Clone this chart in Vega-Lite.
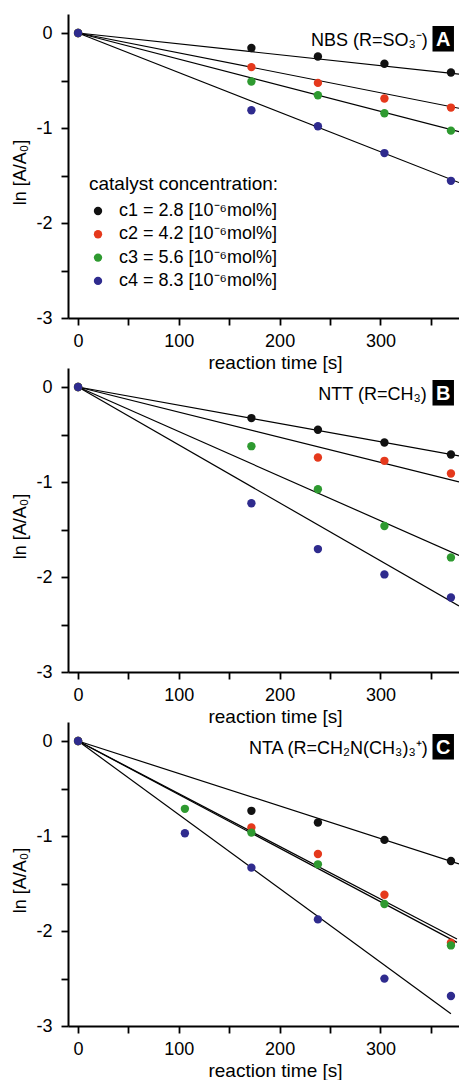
{
  "$schema": "https://vega.github.io/schema/vega-lite/v6.json",
  "padding": {"left": 11, "top": 14, "right": 0, "bottom": 0},
  "spacing": 50,
  "bounds": "flush",
  "datasets": {
    "pts": [
      {"panel": "A", "s": "c1", "t": 0, "v": 0}, {"panel": "A", "s": "c1", "t": 172, "v": -0.158}, {"panel": "A", "s": "c1", "t": 238, "v": -0.247}, {"panel": "A", "s": "c1", "t": 304, "v": -0.324}, {"panel": "A", "s": "c1", "t": 370, "v": -0.416},
      {"panel": "A", "s": "c2", "t": 0, "v": 0}, {"panel": "A", "s": "c2", "t": 172, "v": -0.359}, {"panel": "A", "s": "c2", "t": 238, "v": -0.525}, {"panel": "A", "s": "c2", "t": 304, "v": -0.69}, {"panel": "A", "s": "c2", "t": 370, "v": -0.785},
      {"panel": "A", "s": "c3", "t": 0, "v": 0}, {"panel": "A", "s": "c3", "t": 172, "v": -0.511}, {"panel": "A", "s": "c3", "t": 238, "v": -0.655}, {"panel": "A", "s": "c3", "t": 304, "v": -0.845}, {"panel": "A", "s": "c3", "t": 370, "v": -1.028},
      {"panel": "A", "s": "c4", "t": 0, "v": 0}, {"panel": "A", "s": "c4", "t": 172, "v": -0.813}, {"panel": "A", "s": "c4", "t": 238, "v": -0.982}, {"panel": "A", "s": "c4", "t": 304, "v": -1.264}, {"panel": "A", "s": "c4", "t": 370, "v": -1.556},
      {"panel": "B", "s": "c1", "t": 0, "v": 0}, {"panel": "B", "s": "c1", "t": 172, "v": -0.327}, {"panel": "B", "s": "c1", "t": 238, "v": -0.45}, {"panel": "B", "s": "c1", "t": 304, "v": -0.584}, {"panel": "B", "s": "c1", "t": 370, "v": -0.711},
      {"panel": "B", "s": "c2", "t": 0, "v": 0}, {"panel": "B", "s": "c2", "t": 238, "v": -0.742}, {"panel": "B", "s": "c2", "t": 304, "v": -0.777}, {"panel": "B", "s": "c2", "t": 370, "v": -0.911},
      {"panel": "B", "s": "c3", "t": 0, "v": 0}, {"panel": "B", "s": "c3", "t": 172, "v": -0.623}, {"panel": "B", "s": "c3", "t": 238, "v": -1.076}, {"panel": "B", "s": "c3", "t": 304, "v": -1.463}, {"panel": "B", "s": "c3", "t": 370, "v": -1.794},
      {"panel": "B", "s": "c4", "t": 0, "v": 0}, {"panel": "B", "s": "c4", "t": 172, "v": -1.224}, {"panel": "B", "s": "c4", "t": 238, "v": -1.706}, {"panel": "B", "s": "c4", "t": 304, "v": -1.973}, {"panel": "B", "s": "c4", "t": 370, "v": -2.216},
      {"panel": "C", "s": "c1", "t": 0, "v": 0}, {"panel": "C", "s": "c1", "t": 172, "v": -0.735}, {"panel": "C", "s": "c1", "t": 238, "v": -0.858}, {"panel": "C", "s": "c1", "t": 304, "v": -1.041}, {"panel": "C", "s": "c1", "t": 370, "v": -1.263},
      {"panel": "C", "s": "c2", "t": 0, "v": 0}, {"panel": "C", "s": "c2", "t": 172, "v": -0.911}, {"panel": "C", "s": "c2", "t": 238, "v": -1.189}, {"panel": "C", "s": "c2", "t": 304, "v": -1.618}, {"panel": "C", "s": "c2", "t": 370, "v": -2.124},
      {"panel": "C", "s": "c3", "t": 0, "v": 0}, {"panel": "C", "s": "c3", "t": 106, "v": -0.714}, {"panel": "C", "s": "c3", "t": 172, "v": -0.964}, {"panel": "C", "s": "c3", "t": 238, "v": -1.298}, {"panel": "C", "s": "c3", "t": 304, "v": -1.716}, {"panel": "C", "s": "c3", "t": 370, "v": -2.152},
      {"panel": "C", "s": "c4", "t": 0, "v": 0}, {"panel": "C", "s": "c4", "t": 106, "v": -0.971}, {"panel": "C", "s": "c4", "t": 172, "v": -1.333}, {"panel": "C", "s": "c4", "t": 238, "v": -1.878}, {"panel": "C", "s": "c4", "t": 304, "v": -2.501}, {"panel": "C", "s": "c4", "t": 370, "v": -2.684}
    ],
    "fits": [
      {"panel": "A", "s": "c1", "t": 0, "v": 0}, {"panel": "A", "s": "c1", "t": 378, "v": -0.433},
      {"panel": "A", "s": "c2", "t": 0, "v": 0}, {"panel": "A", "s": "c2", "t": 378, "v": -0.792},
      {"panel": "A", "s": "c3", "t": 0, "v": 0}, {"panel": "A", "s": "c3", "t": 378, "v": -1.039},
      {"panel": "A", "s": "c4", "t": 0, "v": 0}, {"panel": "A", "s": "c4", "t": 378, "v": -1.574},
      {"panel": "B", "s": "c1", "t": 0, "v": 0}, {"panel": "B", "s": "c1", "t": 378, "v": -0.725},
      {"panel": "B", "s": "c2", "t": 0, "v": 0}, {"panel": "B", "s": "c2", "t": 378, "v": -0.999},
      {"panel": "B", "s": "c3", "t": 0, "v": 0}, {"panel": "B", "s": "c3", "t": 378, "v": -1.773},
      {"panel": "B", "s": "c4", "t": 0, "v": 0}, {"panel": "B", "s": "c4", "t": 378, "v": -2.304},
      {"panel": "C", "s": "c1", "t": 0, "v": 0}, {"panel": "C", "s": "c1", "t": 378, "v": -1.293},
      {"panel": "C", "s": "c2", "t": 0, "v": 0}, {"panel": "C", "s": "c2", "t": 376, "v": -2.085},
      {"panel": "C", "s": "c3", "t": 0, "v": 0}, {"panel": "C", "s": "c3", "t": 376, "v": -2.12},
      {"panel": "C", "s": "c4", "t": 0, "v": 0}, {"panel": "C", "s": "c4", "t": 370, "v": -2.87}
    ],
    "boxes": [
      {"panel": "A", "t": 351.7, "t2": 373, "v": 0.074, "v2": -0.195},
      {"panel": "B", "t": 351.7, "t2": 373, "v": 0.074, "v2": -0.195},
      {"panel": "C", "t": 351.7, "t2": 373, "v": 0.074, "v2": -0.195}
    ],
    "letters": [
      {"panel": "A", "t": 362.4, "v": -0.142, "label": "A"},
      {"panel": "B", "t": 362.4, "v": -0.142, "label": "B"},
      {"panel": "C", "t": 362.4, "v": -0.142, "label": "C"}
    ],
    "notes": [
      {"panel": "A", "t": 347, "v": -0.142, "label": "NBS (R=SO₃⁻)"},
      {"panel": "B", "t": 346, "v": -0.142, "label": "NTT (R=CH₃)"},
      {"panel": "C", "t": 347, "v": -0.142, "label": "NTA (R=CH₂N(CH₃)₃⁺)"}
    ]
  },
  "vconcat": [
    {
      "width": 391, "height": 304,
      "encoding": {
        "x": {"field": "t", "type": "quantitative", "title": "reaction time [s]", "scale": {"domain": [-10, 378], "nice": false, "zero": false},
          "axis": {"values": [0, 50, 100, 150, 200, 250, 300, 350], "labelExpr": "datum.value % 100 === 0 ? datum.label : ''", "titleX": 207, "titleY": 35, "titleBaseline": "top", "titleFontSize": 19, "labelPadding": 7,
            "encode": {"ticks": {"update": {"y2": {"signal": "datum.value % 100 === 0 ? 7 : 3.5"}}}}}},
        "y": {"field": "v", "type": "quantitative", "title": "ln [A/A₀]", "scale": {"domain": [-3, 0.2], "nice": false, "zero": false},
          "axis": {"values": [-3, -2.5, -2, -1.5, -1, -0.5, 0], "labelExpr": "datum.value % 1 === 0 ? (datum.value < 0 ? '-' + format(-datum.value, 'd') : '0') : ''", "titleX": -48, "titleY": 158, "titleAngle": -90, "titleAlign": "center", "titleBaseline": "middle", "labelPadding": 9,
            "encode": {"ticks": {"update": {"x2": {"signal": "datum.value % 1 === 0 ? -7 : -3.5"}}}}}}
      },
      "layer": [
        {"data": {"name": "fits"}, "transform": [{"filter": "datum.panel === 'A'"}], "mark": {"type": "line", "color": "black", "strokeWidth": 1.2}, "encoding": {"detail": {"field": "s"}, "order": {"field": "t"}}},
        {"data": {"name": "pts"}, "transform": [{"filter": "datum.panel === 'A'"}], "mark": {"type": "circle", "size": 70, "opacity": 1},
          "encoding": {"color": {"field": "s", "type": "nominal", "scale": {"domain": ["c1", "c2", "c3", "c4"], "range": ["#111111", "#e5391c", "#2e9a30", "#2f2b8e"]},
            "legend": {"orient": "none", "legendX": 21, "legendY": 161, "title": "catalyst concentration:", "labelExpr": "datum.label == 'c1' ? 'c1 = 2.8 [10⁻⁶mol%]' : datum.label == 'c2' ? 'c2 = 4.2 [10⁻⁶mol%]' : datum.label == 'c3' ? 'c3 = 5.6 [10⁻⁶mol%]' : 'c4 = 8.3 [10⁻⁶mol%]'", "symbolType": "circle", "symbolSize": 70, "symbolStrokeWidth": 0, "titleFontSize": 19, "titleFontWeight": "normal", "titleFont": "Liberation Sans", "titleColor": "black", "titleLimit": 400, "labelFontSize": 18, "labelFont": "Liberation Sans", "labelColor": "black", "titlePadding": 8, "rowPadding": 5.3, "labelOffset": 12, "padding": 0, "offset": 0, "labelLimit": 400}}}},
        {"data": {"name": "boxes"}, "transform": [{"filter": "datum.panel === 'A'"}], "mark": {"type": "rect", "color": "black"}, "encoding": {"x2": {"field": "t2"}, "y2": {"field": "v2"}}},
        {"data": {"name": "letters"}, "transform": [{"filter": "datum.panel === 'A'"}], "mark": {"type": "text", "color": "white", "font": "Liberation Sans", "fontWeight": "bold", "fontSize": 20, "align": "center", "baseline": "alphabetic"}, "encoding": {"text": {"field": "label"}}},
        {"data": {"name": "notes"}, "transform": [{"filter": "datum.panel === 'A'"}], "mark": {"type": "text", "color": "black", "font": "Liberation Sans", "fontSize": 18, "align": "right", "baseline": "alphabetic"}, "encoding": {"text": {"field": "label"}}}
      ]
    },
    {
      "width": 391, "height": 304,
      "encoding": {
        "x": {"field": "t", "type": "quantitative", "title": "reaction time [s]", "scale": {"domain": [-10, 378], "nice": false, "zero": false},
          "axis": {"values": [0, 50, 100, 150, 200, 250, 300, 350], "labelExpr": "datum.value % 100 === 0 ? datum.label : ''", "titleX": 207, "titleY": 35, "titleBaseline": "top", "titleFontSize": 19, "labelPadding": 7,
            "encode": {"ticks": {"update": {"y2": {"signal": "datum.value % 100 === 0 ? 7 : 3.5"}}}}}},
        "y": {"field": "v", "type": "quantitative", "title": "ln [A/A₀]", "scale": {"domain": [-3, 0.2], "nice": false, "zero": false},
          "axis": {"values": [-3, -2.5, -2, -1.5, -1, -0.5, 0], "labelExpr": "datum.value % 1 === 0 ? (datum.value < 0 ? '-' + format(-datum.value, 'd') : '0') : ''", "titleX": -48, "titleY": 158, "titleAngle": -90, "titleAlign": "center", "titleBaseline": "middle", "labelPadding": 9,
            "encode": {"ticks": {"update": {"x2": {"signal": "datum.value % 1 === 0 ? -7 : -3.5"}}}}}}
      },
      "layer": [
        {"data": {"name": "fits"}, "transform": [{"filter": "datum.panel === 'B'"}], "mark": {"type": "line", "color": "black", "strokeWidth": 1.2}, "encoding": {"detail": {"field": "s"}, "order": {"field": "t"}}},
        {"data": {"name": "pts"}, "transform": [{"filter": "datum.panel === 'B'"}], "mark": {"type": "circle", "size": 70, "opacity": 1},
          "encoding": {"color": {"field": "s", "type": "nominal", "scale": {"domain": ["c1", "c2", "c3", "c4"], "range": ["#111111", "#e5391c", "#2e9a30", "#2f2b8e"]}, "legend": null}}},
        {"data": {"name": "boxes"}, "transform": [{"filter": "datum.panel === 'B'"}], "mark": {"type": "rect", "color": "black"}, "encoding": {"x2": {"field": "t2"}, "y2": {"field": "v2"}}},
        {"data": {"name": "letters"}, "transform": [{"filter": "datum.panel === 'B'"}], "mark": {"type": "text", "color": "white", "font": "Liberation Sans", "fontWeight": "bold", "fontSize": 20, "align": "center", "baseline": "alphabetic"}, "encoding": {"text": {"field": "label"}}},
        {"data": {"name": "notes"}, "transform": [{"filter": "datum.panel === 'B'"}], "mark": {"type": "text", "color": "black", "font": "Liberation Sans", "fontSize": 18, "align": "right", "baseline": "alphabetic"}, "encoding": {"text": {"field": "label"}}}
      ]
    },
    {
      "width": 391, "height": 304,
      "encoding": {
        "x": {"field": "t", "type": "quantitative", "title": "reaction time [s]", "scale": {"domain": [-10, 378], "nice": false, "zero": false},
          "axis": {"values": [0, 50, 100, 150, 200, 250, 300, 350], "labelExpr": "datum.value % 100 === 0 ? datum.label : ''", "titleX": 207, "titleY": 35, "titleBaseline": "top", "titleFontSize": 19, "labelPadding": 7,
            "encode": {"ticks": {"update": {"y2": {"signal": "datum.value % 100 === 0 ? 7 : 3.5"}}}}}},
        "y": {"field": "v", "type": "quantitative", "title": "ln [A/A₀]", "scale": {"domain": [-3, 0.2], "nice": false, "zero": false},
          "axis": {"values": [-3, -2.5, -2, -1.5, -1, -0.5, 0], "labelExpr": "datum.value % 1 === 0 ? (datum.value < 0 ? '-' + format(-datum.value, 'd') : '0') : ''", "titleX": -48, "titleY": 158, "titleAngle": -90, "titleAlign": "center", "titleBaseline": "middle", "labelPadding": 9,
            "encode": {"ticks": {"update": {"x2": {"signal": "datum.value % 1 === 0 ? -7 : -3.5"}}}}}}
      },
      "layer": [
        {"data": {"name": "fits"}, "transform": [{"filter": "datum.panel === 'C'"}], "mark": {"type": "line", "color": "black", "strokeWidth": 1.2}, "encoding": {"detail": {"field": "s"}, "order": {"field": "t"}}},
        {"data": {"name": "pts"}, "transform": [{"filter": "datum.panel === 'C'"}], "mark": {"type": "circle", "size": 70, "opacity": 1},
          "encoding": {"color": {"field": "s", "type": "nominal", "scale": {"domain": ["c1", "c2", "c3", "c4"], "range": ["#111111", "#e5391c", "#2e9a30", "#2f2b8e"]}, "legend": null}}},
        {"data": {"name": "boxes"}, "transform": [{"filter": "datum.panel === 'C'"}], "mark": {"type": "rect", "color": "black"}, "encoding": {"x2": {"field": "t2"}, "y2": {"field": "v2"}}},
        {"data": {"name": "letters"}, "transform": [{"filter": "datum.panel === 'C'"}], "mark": {"type": "text", "color": "white", "font": "Liberation Sans", "fontWeight": "bold", "fontSize": 20, "align": "center", "baseline": "alphabetic"}, "encoding": {"text": {"field": "label"}}},
        {"data": {"name": "notes"}, "transform": [{"filter": "datum.panel === 'C'"}], "mark": {"type": "text", "color": "black", "font": "Liberation Sans", "fontSize": 18, "align": "right", "baseline": "alphabetic"}, "encoding": {"text": {"field": "label"}}}
      ]
    }
  ],
  "config": {
    "font": "Liberation Sans",
    "view": {"stroke": null},
    "axis": {"domainColor": "black", "domainWidth": 2, "tickColor": "black", "tickWidth": 1.8, "tickSize": 7, "labelFont": "Liberation Sans", "labelFontSize": 18, "labelColor": "black", "titleFont": "Liberation Sans", "titleFontSize": 18, "titleFontWeight": "normal", "titleColor": "black", "grid": false, "labelFlush": false, "labelOverlap": false}
  }
}
